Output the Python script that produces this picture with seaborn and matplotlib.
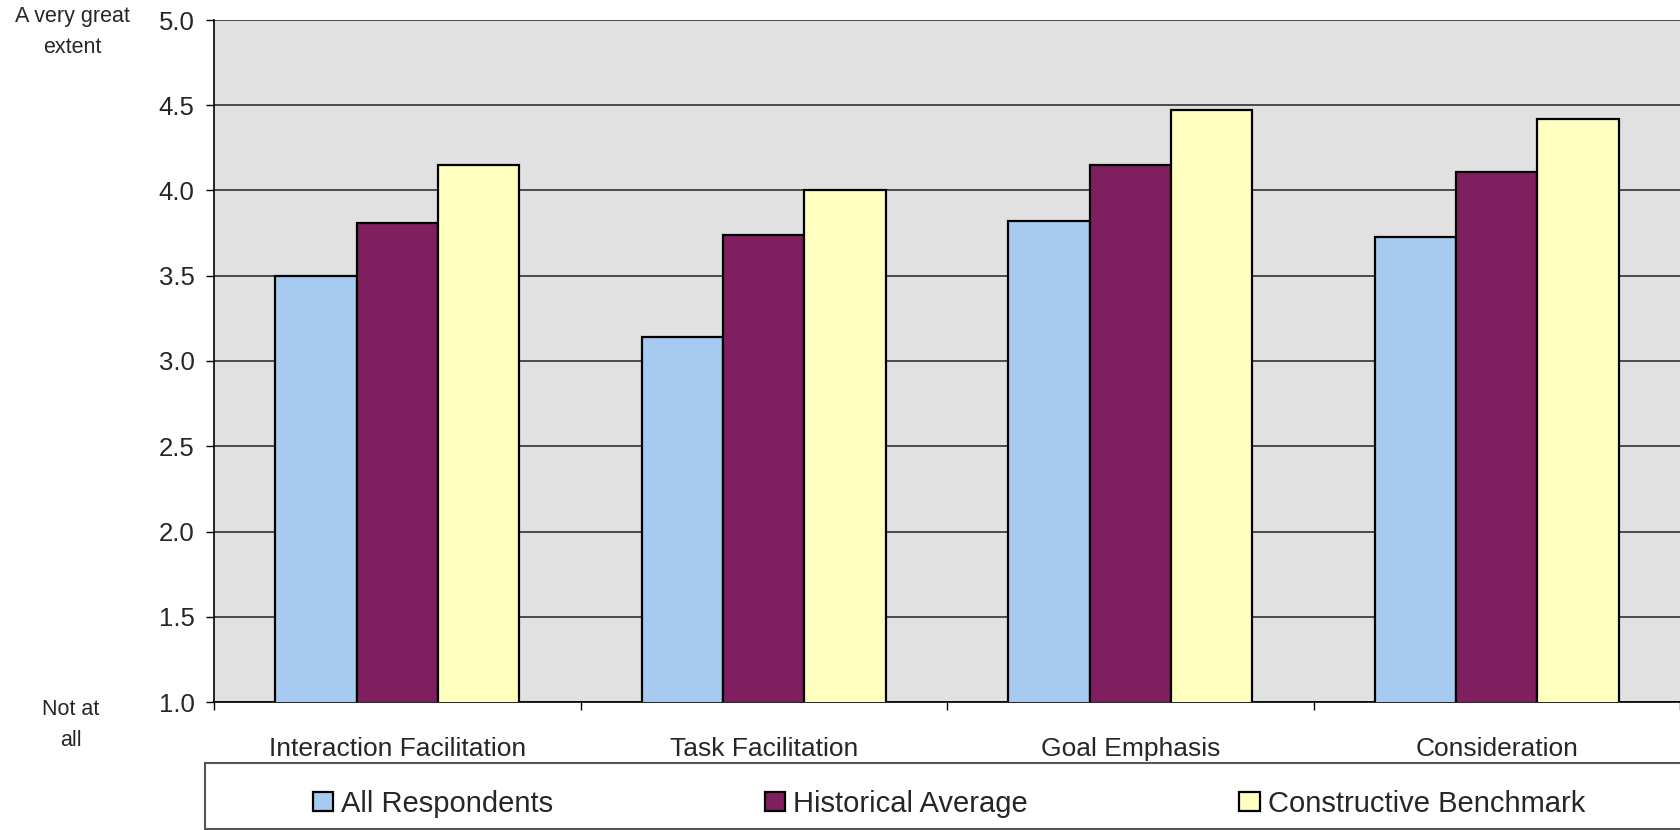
import matplotlib
matplotlib.use("Agg")
import matplotlib.pyplot as plt
import matplotlib.patches as mpatches
from matplotlib.ticker import FixedLocator
import seaborn as sns
import pandas as pd
import numpy as np

# Leadership dimensions and mean ratings (1 = not at all, 5 = a very great extent)
categories = ["Interaction Facilitation", "Task Facilitation", "Goal Emphasis", "Consideration"]
series_names = ["All Respondents", "Historical Average", "Constructive Benchmark"]
all_respondents = [3.50, 3.14, 3.82, 3.73]
historical_average = [3.81, 3.74, 4.15, 4.11]
constructive_benchmark = [4.15, 4.00, 4.47, 4.42]
y_ticks = [1.0, 1.5, 2.0, 2.5, 3.0, 3.5, 4.0, 4.5, 5.0]
series_colors = ["#A6CAF0", "#7F1F5F", "#FFFFC0"]

df = pd.DataFrame({
    "category": categories * 3,
    "series": [s for s in series_names for _ in categories],
    "value": all_respondents + historical_average + constructive_benchmark,
})

sns.set_theme(style="white")
plt.rcParams["font.family"] = ["Liberation Sans", "DejaVu Sans"]

W, H = 1680, 830
fig = plt.figure(figsize=(W / 100, H / 100), dpi=100)
ax = fig.add_axes([214 / W, 1 - 702 / H, 1 - 214 / W, (702 - 20) / H])
ax.set_facecolor("#E1E1E1")

sns.barplot(data=df, x="category", y="value", hue="series", order=categories,
            hue_order=series_names, palette=series_colors, saturation=1,
            width=0.666, edgecolor="black", linewidth=1.6, errorbar=None,
            ax=ax, zorder=3)

ax.set_ylim(1.0, 5.0)
ax.set_xlim(-0.5, len(categories) - 0.5)
ax.yaxis.set_major_locator(FixedLocator(y_ticks))
ax.set_yticklabels([f"{t:.1f}" for t in y_ticks], fontsize=18.5)
ax.grid(axis="y", color="#222222", linewidth=1.1, zorder=0)
ax.grid(axis="x", visible=False)
ax.set_axisbelow(True)

ax.tick_params(axis="y", which="major", direction="out", length=6, width=1,
               color="black", pad=8, left=True)
ax.tick_params(axis="x", which="major", length=0, pad=25, labelsize=19)
ax.xaxis.set_minor_locator(FixedLocator(np.arange(-0.5, len(categories), 1.0)))
ax.tick_params(axis="x", which="minor", direction="out", length=6, width=1,
               color="black", bottom=True)
ax.set_xlabel("")
ax.set_ylabel("")

for side in ["top", "right"]:
    ax.spines[side].set_visible(False)
ax.spines["left"].set_color("black")
ax.spines["left"].set_linewidth(1.2)
ax.spines["bottom"].set_color("black")
ax.spines["bottom"].set_linewidth(1.2)

# Scale anchors beside the y axis
fig.text(72 / W, 1 - 32 / H, "A very great\nextent", ha="center", va="center",
         fontsize=15.5, linespacing=1.6)
fig.text(71 / W, 1 - 725 / H, "Not at\nall", ha="center", va="center",
         fontsize=15.5, linespacing=1.6)

# Legend row in its own framed box below the chart
ax.get_legend().remove()
handles = [mpatches.Patch(facecolor=c, edgecolor="black", linewidth=1.6) for c in series_colors]
fig.legend(handles, series_names, loc="center left",
           bbox_to_anchor=(313 / W, 1 - 804 / H), ncol=3, frameon=False,
           fontsize=21, handlelength=0.69, handleheight=0.65, handletextpad=0.28,
           columnspacing=7.25, borderpad=0, borderaxespad=0)
frame = mpatches.Rectangle((205 / W, 1 - 829 / H), 1 - 205 / W + 0.01, (829 - 763) / H,
                           transform=fig.transFigure, facecolor="white",
                           edgecolor="#555555", linewidth=1.5, zorder=-1)
fig.patches.append(frame)

fig.savefig("out.png", dpi=100)
